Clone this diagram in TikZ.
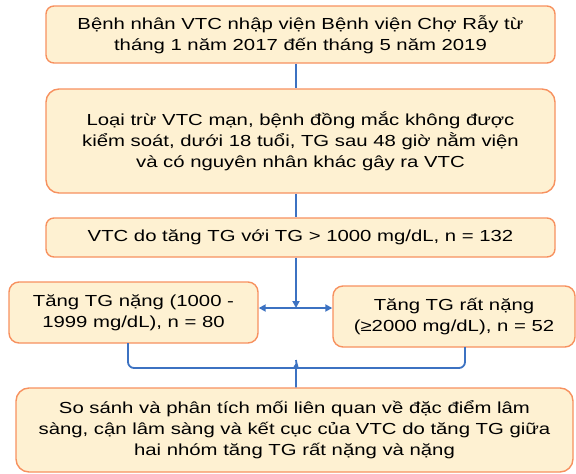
\documentclass[tikz,border=0pt]{standalone}
\usepackage{fontspec}
\setmainfont{Liberation Sans}[FakeStretch=1.27]
\usetikzlibrary{arrows.meta}
\definecolor{boxfill}{HTML}{FEF1D2}
\definecolor{boxline}{HTML}{F7915F}
\definecolor{linkblue}{HTML}{3C72C2}
\begin{document}
\begin{tikzpicture}[x=1pt,y=-1pt,
  box/.style={draw=boxline, fill=boxfill, line width=1.4pt, rounded corners=8pt,
    align=center, inner sep=0pt, font=\fontsize{16}{21}\selectfont},
  link/.style={draw=linkblue, line width=1.8pt},
  tip/.style={-{Triangle[length=7pt,width=7pt]}}]
\useasboundingbox (0,0) rectangle (576,474);
\node[box, minimum width=509pt, minimum height=57pt] (b1) at (300.5,34.5)
  {Bệnh nhân VTC nhập viện Bệnh viện Chợ Rẫy từ\\tháng 1 năm 2017 đến tháng 5 năm 2019};
\node[box, rounded corners=13pt, minimum width=509pt, minimum height=104pt] (b2) at (300.5,141)
  {Loại trừ VTC mạn, bệnh đồng mắc không được\\kiểm soát, dưới 18 tuổi, TG sau 48 giờ nằm viện\\và có nguyên nhân khác gây ra VTC};
\node[box, minimum width=509pt, minimum height=39pt] (b3) at (300.5,237.5)
  {VTC do tăng TG với TG > 1000 mg/dL, n = 132};
\node[box, rounded corners=10pt, minimum width=249pt, minimum height=61pt] (b4) at (133.5,312.5)
  {Tăng TG nặng (1000 -\\1999 mg/dL), n = 80};
\node[box, rounded corners=10pt, minimum width=242pt, minimum height=61pt] (b5) at (454,316.5)
  {Tăng TG rất nặng\\(≥2000 mg/dL), n = 52};
\node[box, rounded corners=13pt, minimum width=557pt, minimum height=84pt] (b6) at (294.5,430)
  {So sánh và phân tích mối liên quan về đặc điểm lâm\\sàng, cận lâm sàng và kết cục của VTC do tăng TG giữa\\hai nhóm tăng TG rất nặng và nặng};
\coordinate (j) at (296,308);
\coordinate (m) at (296,368);
\coordinate (l) at (128,343);
\coordinate (r) at (465,347);
\draw[link] (b1.south -| j) -- (b2.north -| j);
\draw[link] (b2.south -| j) -- (b3.north -| j);
\draw[link, tip] (b3.south -| j) -- (j);
\draw[link, tip] (j) -- (j -| b4.east);
\draw[link, tip] (j) -- (j -| b5.west);
\draw[link, rounded corners=6pt] (l) -- (l |- m) -- ([xshift=-7pt]m) to[out=0,in=-90] ([yshift=8pt]m) -- (b6.north -| m);
\draw[link, rounded corners=6pt] (r) -- (r |- m) -- ([xshift=7pt]m) to[out=180,in=-90] ([yshift=8pt]m);
\end{tikzpicture}
\end{document}
